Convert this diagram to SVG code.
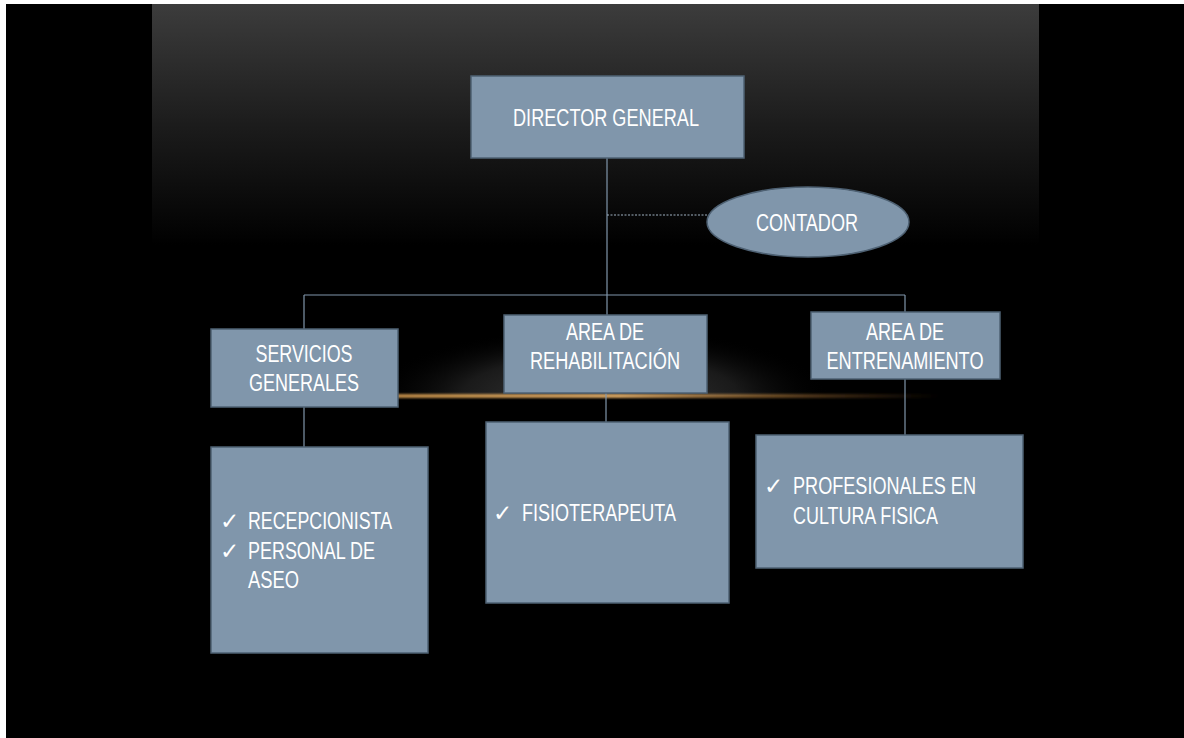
<svg xmlns="http://www.w3.org/2000/svg" width="1184" height="738" viewBox="0 0 1184 738">
  <defs>
    <linearGradient id="panel" x1="0" y1="4" x2="0" y2="245" gradientUnits="userSpaceOnUse">
      <stop offset="0" stop-color="#3c3c3c"/>
      <stop offset="0.5" stop-color="#1c1c1c"/>
      <stop offset="1" stop-color="#000000"/>
    </linearGradient>
    <radialGradient id="glow" cx="600" cy="396" r="230" gradientUnits="userSpaceOnUse" gradientTransform="translate(600 396) scale(1 0.3) translate(-600 -396)">
      <stop offset="0" stop-color="#3a3a3a"/>
      <stop offset="0.6" stop-color="#1a1a1a"/>
      <stop offset="1" stop-color="#000000" stop-opacity="0"/>
    </radialGradient>
    <linearGradient id="streak" x1="300" y1="0" x2="940" y2="0" gradientUnits="userSpaceOnUse">
      <stop offset="0" stop-color="#c8924a" stop-opacity="0"/>
      <stop offset="0.15" stop-color="#c8924a" stop-opacity="0.9"/>
      <stop offset="0.5" stop-color="#d0a060" stop-opacity="1"/>
      <stop offset="0.75" stop-color="#b07a3a" stop-opacity="0.55"/>
      <stop offset="1" stop-color="#804f20" stop-opacity="0"/>
    </linearGradient>
    <filter id="blur" x="-10%" y="-200%" width="120%" height="500%">
      <feGaussianBlur stdDeviation="1"/>
    </filter>
  </defs>
  <style>
    .box { fill: #8096ab; stroke: #4e6173; stroke-width: 1.5; }
    .conn { stroke: #8096ab; stroke-width: 1.2; fill: none; }
    .dash { stroke: #a0b2c2; stroke-width: 1; stroke-dasharray: 2 1.5; fill: none; }
    .t { font-family: "Liberation Sans Narrow", "Liberation Sans", Arial, sans-serif; font-size: 23.5px; fill: #ffffff; }
    .k { font-family: "DejaVu Sans", sans-serif; font-size: 23px; fill: #ffffff; }
    .c { text-anchor: middle; }
  </style>

  <!-- background -->
  <rect x="0" y="0" width="1184" height="738" fill="#ffffff"/>
  <rect x="6" y="4" width="1178" height="734" fill="#000000"/>
  <rect x="152" y="4" width="887" height="250" fill="url(#panel)"/>
  <rect x="370" y="320" width="460" height="76" fill="url(#glow)"/>
  <rect x="300" y="394" width="640" height="4" fill="url(#streak)" filter="url(#blur)"/>

  <g id="connectors">
    <line class="conn" x1="607" y1="158" x2="607" y2="315"/>
    <line class="dash" x1="607" y1="215" x2="707" y2="215"/>
    <line class="conn" x1="304" y1="295" x2="905" y2="295"/>
    <line class="conn" x1="304" y1="295" x2="304" y2="329"/>
    <line class="conn" x1="905" y1="295" x2="905" y2="312"/>
    <line class="conn" x1="304" y1="407" x2="304" y2="447"/>
    <line class="conn" x1="606" y1="393" x2="606" y2="422"/>
    <line class="conn" x1="905" y1="379" x2="905" y2="435"/>
  </g>

  <g id="director">
    <rect class="box" x="471" y="76" width="273" height="82"/>
    <text class="t c" x="606" y="126" textLength="186" lengthAdjust="spacingAndGlyphs">DIRECTOR GENERAL</text>
  </g>

  <g id="contador">
    <ellipse class="box" cx="808" cy="222" rx="101" ry="35" stroke="none"/>
    <text class="t c" x="807" y="231" textLength="102" lengthAdjust="spacingAndGlyphs">CONTADOR</text>
  </g>

  <g id="servicios">
    <rect class="box" x="211" y="329" width="187" height="78"/>
    <text class="t c" x="304" y="362" textLength="97" lengthAdjust="spacingAndGlyphs">SERVICIOS</text>
    <text class="t c" x="304" y="391" textLength="110" lengthAdjust="spacingAndGlyphs">GENERALES</text>
  </g>

  <g id="rehabilitacion">
    <rect class="box" x="504" y="315" width="203" height="78"/>
    <text class="t c" x="605" y="340" textLength="78" lengthAdjust="spacingAndGlyphs">AREA DE</text>
    <text class="t c" x="605" y="369" textLength="150" lengthAdjust="spacingAndGlyphs">REHABILITACIÓN</text>
  </g>

  <g id="entrenamiento">
    <rect class="box" x="811" y="312" width="189" height="67"/>
    <text class="t c" x="905" y="340" textLength="78" lengthAdjust="spacingAndGlyphs">AREA DE</text>
    <text class="t c" x="905" y="369" textLength="157" lengthAdjust="spacingAndGlyphs">ENTRENAMIENTO</text>
  </g>

  <g id="servicios-lista">
    <rect class="box" x="211" y="447" width="217" height="206"/>
    <text class="k" x="220" y="529">✓</text>
    <text class="t" x="248" y="529" textLength="144" lengthAdjust="spacingAndGlyphs">RECEPCIONISTA</text>
    <text class="k" x="220" y="559">✓</text>
    <text class="t" x="248" y="559" textLength="127" lengthAdjust="spacingAndGlyphs">PERSONAL DE</text>
    <text class="t" x="248" y="588" textLength="51" lengthAdjust="spacingAndGlyphs">ASEO</text>
  </g>

  <g id="rehabilitacion-lista">
    <rect class="box" x="486" y="422" width="243" height="181"/>
    <text class="k" x="493" y="521">✓</text>
    <text class="t" x="522" y="521" textLength="154" lengthAdjust="spacingAndGlyphs">FISIOTERAPEUTA</text>
  </g>

  <g id="entrenamiento-lista">
    <rect class="box" x="756" y="435" width="267" height="133"/>
    <text class="k" x="764" y="494">✓</text>
    <text class="t" x="793" y="494" textLength="183" lengthAdjust="spacingAndGlyphs">PROFESIONALES EN</text>
    <text class="t" x="793" y="524" textLength="145" lengthAdjust="spacingAndGlyphs">CULTURA FISICA</text>
  </g>
</svg>
